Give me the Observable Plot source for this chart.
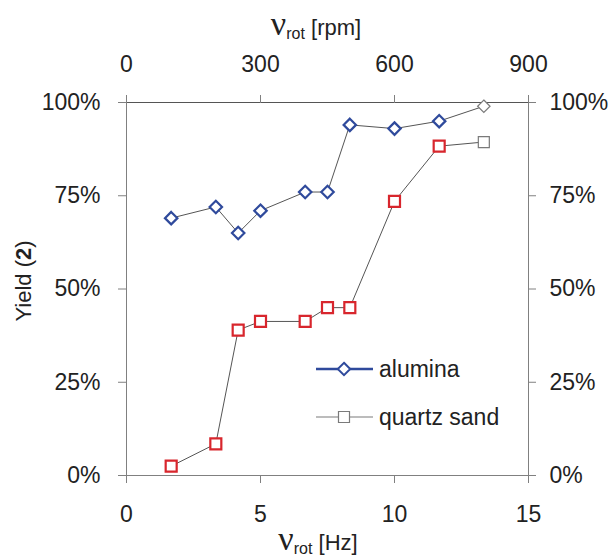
<!DOCTYPE html>
<html>
<head>
<meta charset="utf-8">
<script src="https://cdn.jsdelivr.net/npm/d3@7"></script>
<script src="https://cdn.jsdelivr.net/npm/@observablehq/plot@0.6"></script>
<style>
  html, body { margin: 0; padding: 0; background: #fff; }
</style>
</head>
<body>
<div id="chart"></div>
<script>
// Data
const rotHz = [1.667, 3.333, 4.167, 5, 6.667, 7.5, 8.333, 10, 11.667, 13.333];
const aluminaYield = [69, 72, 65, 71, 76, 76, 94, 93, 95, 99];
const quartzYield = [2.5, 8.5, 39, 41.3, 41.3, 45, 45, 73.5, 88.3, 89.4];
const bottomTicks = [0, 5, 10, 15];
const topTicksRpm = [0, 300, 600, 900];
const yTicks = [0, 25, 50, 75, 100];
const seriesNames = ["alumina", "quartz sand"];

const alumina = rotHz.map((x, i) => ({x, y: aluminaYield[i], last: i === rotHz.length - 1}));
const quartz = rotHz.map((x, i) => ({x, y: quartzYield[i], last: i === rotHz.length - 1}));

const blue = "#2f4a9c";
const red = "#d8262d";
const grey = "#7a7a7a";
const axisColor = "#808080";
const font = "'Liberation Sans', Arial, sans-serif";

const chart = Plot.plot({
  width: 611,
  height: 556,
  marginLeft: 126,
  marginRight: 83,
  marginTop: 102,
  marginBottom: 81,
  style: {fontFamily: font, fontSize: "23px", color: "#222", background: "#fff"},
  x: {domain: [0, 15]},
  y: {domain: [0, 100]},
  marks: [
    Plot.frame({stroke: axisColor, strokeWidth: 1}),
    Plot.ruleY([100], {stroke: "#555", strokeWidth: 1}),
    Plot.axisX({anchor: "bottom", ticks: bottomTicks, tickSize: 8, tickPadding: 22, label: null, stroke: axisColor, tickFormat: d => d}),
    Plot.axisX({anchor: "top", ticks: topTicksRpm.map(d => d / 60), tickSize: 8, tickPadding: 23, label: null, stroke: axisColor, tickFormat: d => Math.round(d * 60)}),
    Plot.axisY({anchor: "left", ticks: yTicks, tickSize: 8, tickPadding: 18, label: null, stroke: axisColor, tickFormat: d => d + "%"}),
    Plot.axisY({anchor: "right", ticks: yTicks, tickSize: 7, tickPadding: 14, label: null, stroke: axisColor, tickFormat: d => d + "%"}),
    Plot.line(alumina, {x: "x", y: "y", stroke: "#555", strokeWidth: 1}),
    Plot.line(quartz, {x: "x", y: "y", stroke: "#555", strokeWidth: 1}),
    Plot.dot(alumina.filter(d => !d.last), {x: "x", y: "y", symbol: "diamond2", r: 5.6, stroke: blue, strokeWidth: 2.2, fill: "#fff"}),
    Plot.dot(alumina.filter(d => d.last), {x: "x", y: "y", symbol: "diamond2", r: 5.6, stroke: grey, strokeWidth: 1.2, fill: "#fff"}),
    Plot.dot(quartz.filter(d => !d.last), {x: "x", y: "y", symbol: "square2", r: 7, stroke: red, strokeWidth: 2.2, fill: "#fff"}),
    Plot.dot(quartz.filter(d => d.last), {x: "x", y: "y", symbol: "square2", r: 7, stroke: grey, strokeWidth: 1.2, fill: "#fff"})
  ]
});

document.getElementById("chart").appendChild(chart);

const svg = d3.select(chart);

// Axis titles
function nuTitle(x, y, unit, sub) {
  const t = svg.append("text").attr("x", x).attr("y", y).attr("text-anchor", "middle")
    .attr("fill", "#222").style("font-family", font);
  t.append("tspan").text("ν").style("font-family", "'Liberation Serif', serif").style("font-size", "34px");
  t.append("tspan").text("rot").attr("dy", sub).style("font-size", "16px");
  t.append("tspan").text(" [" + unit + "]").attr("dy", -sub).style("font-size", "22px");
}
nuTitle(316, 35, "rpm", 4);
nuTitle(318, 550, "Hz", 4);

const yl = svg.append("text").attr("transform", "translate(31,281) rotate(-90)")
  .attr("text-anchor", "middle").attr("fill", "#222")
  .style("font-family", font).style("font-size", "22px");
yl.append("tspan").text("Yield (");
yl.append("tspan").text("2").style("font-weight", "bold");
yl.append("tspan").text(")");

// Legend
const lg = svg.append("g");
const rows = [
  {name: seriesNames[0], y: 369, stroke: blue, sw: 2.5, sym: d3.symbolDiamond2, size: 98, mw: 2},
  {name: seriesNames[1], y: 417, stroke: grey, sw: 1.2, sym: d3.symbolSquare2, size: 154, mw: 1.2}
];
rows.forEach(r => {
  lg.append("line").attr("x1", 316).attr("x2", 373).attr("y1", r.y).attr("y2", r.y)
    .attr("stroke", r.stroke).attr("stroke-width", r.sw);
  lg.append("path").attr("d", d3.symbol(r.sym, r.size)()).attr("transform", `translate(344,${r.y})`)
    .attr("fill", "#fff").attr("stroke", r.stroke).attr("stroke-width", r.mw);
  lg.append("text").attr("x", 379).attr("y", r.y).attr("dy", "0.35em").attr("fill", "#222")
    .attr("text-anchor", "start")
    .style("font-family", font).style("font-size", "23px").text(r.name);
});
</script>
</body>
</html>
